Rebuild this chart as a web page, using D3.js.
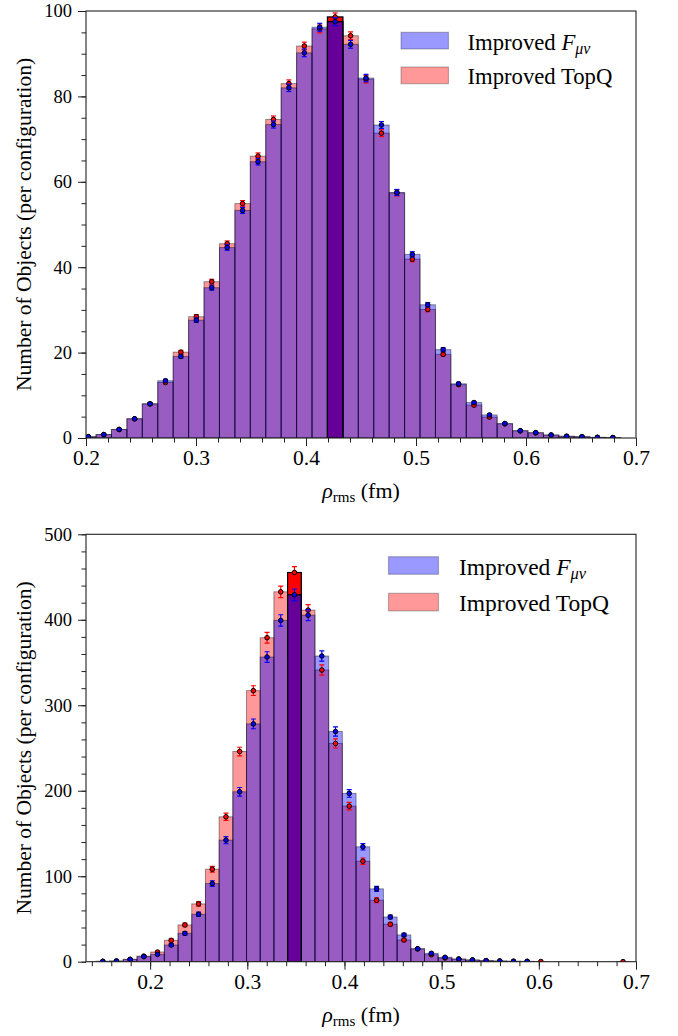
<!DOCTYPE html>
<html>
<head>
<meta charset="utf-8">
<script src="https://cdn.jsdelivr.net/npm/d3@7"></script>
<style>
  body { margin: 0; background: #fff; }
  svg { display: block; }
  text { font-family: "Liberation Serif", "DejaVu Serif", serif; fill: #000; }
</style>
</head>
<body>
<svg></svg>
<script>
const [WIDTH, HEIGHT] = [678, 1036]

// ---- top panel data ----
const topFirstEdge = 0.1951
const topBinWidth = 0.014025
const topFmunu = [0.3, 0.8, 2.0, 4.5, 8.0, 13.4, 19.1, 27.6, 35.2, 44.6, 53.3, 64.7, 73.4, 82.0, 90.2, 96.2, 97.5,
    92.2, 84.3, 73.3, 57.5, 43.0, 31.2, 20.7, 12.7, 8.3, 5.4, 3.4, 1.7, 1.25, 0.7, 0.4, 0.3, 0.15, 0.1]
const topTopQ = [0.3, 0.8, 2.0, 4.5, 8.0, 13.0, 20.1, 28.4, 36.6, 45.5, 54.9, 66.0, 74.6, 83.0, 91.8, 95.8, 98.6,
    94.2, 84.0, 71.4, 57.4, 41.9, 30.1, 19.6, 12.5, 7.7, 4.9, 3.3, 1.7, 1.2, 0.7, 0.4, 0.3, 0.15, 0.1]
const topErr = [0.05, 0.08, 0.13, 0.2, 0.26, 0.34, 0.42, 0.5, 0.57, 0.64, 0.7, 0.76, 0.81, 0.86, 0.9, 0.92, 0.94,
    0.91, 0.87, 0.8, 0.71, 0.62, 0.52, 0.42, 0.34, 0.26, 0.21, 0.17, 0.12, 0.1, 0.08, 0.06, 0.05, 0.03, 0.03]
const topPeakBin = 16
const topXTicks = [0.2, 0.3, 0.4, 0.5, 0.6, 0.7]
const topYTicks = [0, 20, 40, 60, 80, 100]

// ---- bottom panel data ----
const botFirstEdge = 0.1442
const botBinWidth = 0.01409
const botFmunu = [0.4, 0.8, 2.7, 5.9, 8.6, 19.5, 33.2, 55.5, 91.4, 142.2, 198.8, 278.2, 356.4, 399.2, 429.2, 405.4,
    357.6, 269.3, 196.9, 134.4, 85.2, 52.3, 31.3, 15.2, 9.8, 5.1, 3.1, 2.0, 1.2, 0.8, 0.5, 0.4, 0, 0, 0, 0, 0, 0, 0]
const botTopQ = [0.4, 0.8, 2.7, 6.5, 11.3, 25.0, 43.0, 67.6, 108.2, 169.5, 245.9, 317.1, 379.0, 432.7, 455.3, 411.3,
    341.2, 255.3, 182.0, 117.6, 71.9, 43.8, 25.4, 15.0, 8.2, 4.4, 3.1, 2.0, 1.2, 0.8, 0.5, 0.3, 0.2, 0, 0, 0, 0, 0, 0.1]
const botErr = [0.2, 0.3, 0.5, 0.8, 1.1, 1.6, 2.1, 2.6, 3.3, 4.2, 5.0, 5.7, 6.2, 6.7, 6.8, 6.5, 6.0, 5.3, 4.5, 3.7,
    2.9, 2.3, 1.8, 1.2, 1.0, 0.7, 0.55, 0.45, 0.35, 0.3, 0.2, 0.2, 0.15, 0, 0, 0, 0, 0, 0.1]
const botPeakBin = 14
const botXTicks = [0.2, 0.3, 0.4, 0.5, 0.6, 0.7]
const botYTicks = [0, 100, 200, 300, 400, 500]

const seriesNames = ['Improved F', 'Improved TopQ']
const BLUE = '#0000ff', RED = '#ff0000'

const state = {}

function setupSvg() {
    state['svg'] = d3.select("svg")
        .attr("viewBox", "0 0 " + WIDTH + " " + HEIGHT)
        .attr('width', WIDTH)
        .attr('height', HEIGHT)
}

function drawPanel(cfg) {
    const svg = state['svg']
    const g = svg.append('g')
    const x = d3.scaleLinear().domain(cfg.xDomain).range([cfg.left, cfg.right])
    const y = d3.scaleLinear().domain(cfg.yDomain).range([cfg.bottom, cfg.top])
    const edge = k => cfg.firstEdge + k * cfg.binWidth
    const clipId = 'clip' + cfg.id

    svg.append('clipPath').attr('id', clipId)
        .append('rect')
        .attr('x', cfg.left).attr('y', cfg.top - 20)
        .attr('width', cfg.right - cfg.left).attr('height', cfg.bottom - cfg.top + 20)

    const plot = g.append('g').attr('clip-path', `url(#${clipId})`)

    // histograms: TopQ first, F_munu drawn over it
    const hists = [
        { vals: cfg.topQ, color: RED },
        { vals: cfg.fmunu, color: BLUE }
    ]
    for (const h of hists) {
        plot.append('g')
            .selectAll('rect')
            .data(h.vals)
            .join('rect')
            .attr('x', (_, k) => x(edge(k)))
            .attr('width', (_, k) => x(edge(k + 1)) - x(edge(k)))
            .attr('y', v => y(v))
            .attr('height', v => y(0) - y(v))
            .attr('fill', h.color)
            .attr('fill-opacity', 0.4)
            .attr('stroke', '#000')
            .attr('stroke-opacity', 0.4)
            .attr('stroke-width', 1)
    }

    // highlighted most populated bin
    const pk = cfg.peakBin
    const peak = plot.append('g')
    peak.append('rect')
        .attr('x', x(edge(pk))).attr('width', x(edge(pk + 1)) - x(edge(pk)))
        .attr('y', y(cfg.topQ[pk])).attr('height', y(0) - y(cfg.topQ[pk]))
        .attr('fill', RED).attr('stroke', '#000').attr('stroke-width', 1.2)
    peak.append('rect')
        .attr('x', x(edge(pk))).attr('width', x(edge(pk + 1)) - x(edge(pk)))
        .attr('y', y(cfg.fmunu[pk])).attr('height', y(0) - y(cfg.fmunu[pk]))
        .attr('fill', BLUE).attr('fill-opacity', 0.6).attr('stroke', '#000').attr('stroke-width', 1.2)

    // error bars and markers
    const pts = [
        { vals: cfg.topQ, color: RED },
        { vals: cfg.fmunu, color: BLUE }
    ]
    for (const p of pts) {
        const data = p.vals.map((v, k) => ({ v, k, e: cfg.err[k] })).filter(d => d.v > 0)
        const eb = plot.append('g').selectAll('g').data(data).join('g')
            .attr('stroke', p.color).attr('stroke-width', 1.2)
        const cx = d => x(edge(d.k) + cfg.binWidth / 2)
        eb.append('line')
            .attr('x1', cx).attr('x2', cx)
            .attr('y1', d => y(d.v - d.e)).attr('y2', d => y(d.v + d.e))
        eb.append('line')
            .attr('x1', d => cx(d) - 2.5).attr('x2', d => cx(d) + 2.5)
            .attr('y1', d => y(d.v + d.e)).attr('y2', d => y(d.v + d.e))
        eb.append('line')
            .attr('x1', d => cx(d) - 2.5).attr('x2', d => cx(d) + 2.5)
            .attr('y1', d => y(d.v - d.e)).attr('y2', d => y(d.v - d.e))
        plot.append('g').selectAll('circle').data(data).join('circle')
            .attr('cx', cx).attr('cy', d => y(d.v))
            .attr('r', 2.3)
            .attr('fill', p.color).attr('stroke', '#000').attr('stroke-width', 1)
    }

    // axes
    const fontFam = '"Liberation Serif", "DejaVu Serif", serif'
    const xMinor = d3.range(cfg.xMinorStart, 0.7001, 0.02).filter(t => t >= cfg.xDomain[0] - 1e-9)
    const yMinor = d3.range(cfg.yDomain[0], cfg.yDomain[1] + 1e-9, cfg.yMinorStep)

    const xAxis = g.append('g').attr('transform', `translate(0,${cfg.bottom})`)
        .call(d3.axisBottom(x).tickValues(cfg.xTicks).tickFormat(d3.format('.1f')).tickSize(8).tickPadding(4))
    const xAxisMinor = g.append('g').attr('transform', `translate(0,${cfg.bottom})`)
        .call(d3.axisBottom(x).tickValues(xMinor).tickFormat('').tickSize(4.5))
    const yAxis = g.append('g').attr('transform', `translate(${cfg.left},0)`)
        .call(d3.axisLeft(y).tickValues(cfg.yTicks).tickFormat(d3.format('d')).tickSize(8).tickPadding(6))
    const yAxisMinor = g.append('g').attr('transform', `translate(${cfg.left},0)`)
        .call(d3.axisLeft(y).tickValues(yMinor).tickFormat('').tickSize(4.5))

    for (const a of [xAxis, xAxisMinor, yAxis, yAxisMinor]) {
        a.select('.domain').remove()
        a.selectAll('line').attr('stroke', '#222').attr('stroke-width', 1)
        a.attr('font-family', fontFam)
    }
    xAxis.attr('font-size', 21.5)
    yAxis.attr('font-size', 18.5)
    g.selectAll('.tick text').attr('fill', '#000')

    // frame
    g.append('rect')
        .attr('x', cfg.left).attr('y', cfg.top)
        .attr('width', cfg.right - cfg.left).attr('height', cfg.bottom - cfg.top)
        .attr('fill', 'none').attr('stroke', '#222').attr('stroke-width', 1.1)

    // axis labels
    const xl = g.append('text')
        .attr('x', (cfg.left + cfg.right) / 2)
        .attr('y', cfg.bottom + 60)
        .attr('text-anchor', 'middle')
        .attr('font-size', 22)
    xl.append('tspan').attr('font-style', 'italic').text('ρ')
    xl.append('tspan').attr('font-size', 15).attr('dy', 4).text('rms')
    xl.append('tspan').attr('dy', -4).text(' (fm)')

    g.append('text')
        .attr('transform', `translate(31,${(cfg.top + cfg.bottom) / 2}) rotate(-90)`)
        .attr('text-anchor', 'middle')
        .attr('font-size', 21.5)
        .text('Number of Objects (per configuration)')

    // legend
    const lg = g.append('g')
    const items = [
        { color: BLUE, y: cfg.legend.y0 },
        { color: RED, y: cfg.legend.y1 }
    ]
    items.forEach((it, i) => {
        lg.append('rect')
            .attr('x', cfg.legend.x).attr('y', it.y)
            .attr('width', cfg.legend.w).attr('height', cfg.legend.h)
            .attr('fill', it.color).attr('fill-opacity', 0.4)
            .attr('stroke', '#000').attr('stroke-opacity', 0.25).attr('stroke-width', 1.2)
        const t = lg.append('text')
            .attr('x', cfg.legend.tx)
            .attr('y', it.y + cfg.legend.h + 0.5)
            .attr('font-size', cfg.legend.fs)
        if (i === 0) {
            t.append('tspan').text(seriesNames[0].slice(0, -1))
            t.append('tspan').attr('font-style', 'italic').text('F')
            t.append('tspan').attr('font-style', 'italic').attr('font-size', cfg.legend.fs * 0.7)
                .attr('dy', 4).text('μν')
        } else {
            t.text(seriesNames[1])
        }
    })
}

function main() {
    setupSvg()
    drawPanel({
        id: 'top', left: 86, right: 636, top: 11, bottom: 438,
        xDomain: [0.2, 0.7], yDomain: [0, 100], xMinorStart: 0.2, yMinorStep: 5,
        firstEdge: topFirstEdge, binWidth: topBinWidth,
        fmunu: topFmunu, topQ: topTopQ, err: topErr, peakBin: topPeakBin,
        xTicks: topXTicks, yTicks: topYTicks,
        legend: { x: 401, w: 47.5, h: 16.7, y0: 32.3, y1: 67, tx: 467.5, fs: 22.7 }
    })
    drawPanel({
        id: 'bot', left: 86, right: 636, top: 534.3, bottom: 961.7,
        xDomain: [0.134, 0.7], yDomain: [0, 500], xMinorStart: 0.14, yMinorStep: 20,
        firstEdge: botFirstEdge, binWidth: botBinWidth,
        fmunu: botFmunu, topQ: botTopQ, err: botErr, peakBin: botPeakBin,
        xTicks: botXTicks, yTicks: botYTicks,
        legend: { x: 388.5, w: 50, h: 17.6, y0: 556.7, y1: 593.3, tx: 459, fs: 23.5 }
    })
}

main()
</script>
</body>
</html>
